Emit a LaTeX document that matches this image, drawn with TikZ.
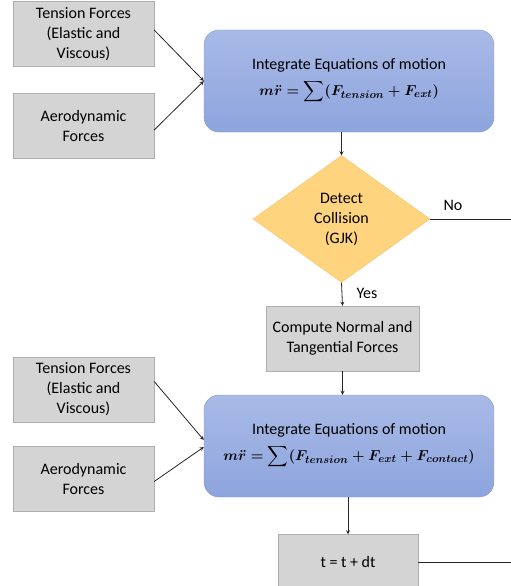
\documentclass[tikz,border=0pt]{standalone}
\usepackage{amsmath}
\usepackage{fontspec}
\setmainfont{Carlito}
\usetikzlibrary{shapes.geometric}

\definecolor{boxgray}{HTML}{D4D4D4}
\definecolor{boxgrayline}{HTML}{AEAEAE}
\definecolor{motiontop}{HTML}{A9BAE7}
\definecolor{motionbot}{HTML}{8DA4DD}
\definecolor{motionline}{HTML}{7F99D3}
\definecolor{collfill}{HTML}{FFD47F}
\definecolor{collline}{HTML}{F3C26E}

\newcommand{\motioneq}[1]{{\fontsize{15.3}{20}\selectfont\boldmath$\displaystyle #1$}}

\tikzset{
	every picture/.style={/utils/exec={\fontsize{16}{20}\selectfont}},
	forcebox/.style={draw=boxgrayline, fill=boxgray, minimum width=141pt, minimum height=65pt, align=center, inner sep=2pt},
	motionbox/.style={draw=motionline, top color=motiontop, bottom color=motionbot, rounded corners=15pt, minimum width=290pt, minimum height=102pt, align=center, inner sep=2pt},
	collbox/.style={diamond, draw=collline, fill=collfill, minimum width=177pt, minimum height=127pt, align=center, inner sep=0pt},
	flow/.style={-stealth, line width=0.8pt, black!85},
	plain/.style={line width=0.8pt, black!85},
}

\begin{document}
\begin{tikzpicture}[x=1pt, y=-1pt]
		\useasboundingbox (0,0) rectangle (511,586);

		% first step
		\node[forcebox] (ten1) at (83.5, 34) {Tension Forces\\(Elastic and\\Viscous)};
		\node[forcebox] (aero1) at (83.5, 126) {Aerodynamic\\Forces};
		\node[motionbox] (int1) at (349, 81) {Integrate Equations of motion\\[6pt]
			\motioneq{m\ddot{r} = \sum (F_{tension} + F_{ext})}};

		\draw[flow] ([yshift=4pt]ten1.east) -> (int1.west);
		\draw[flow] ([yshift=-4pt]aero1.east) -> (int1.west);

		% collision check
		\node[collbox] (gjk) at (341.5, 219) {Detect\\Collision\\(GJK)};
		\draw[flow] (int1.south -| gjk.north) -> (gjk.north);

		\coordinate (noend) at (511, 219);
		\draw[plain] (gjk.east) -- (noend);
		\node at (453, 205) {No};

		\node[forcebox, minimum width=153pt] (contact) at (342.5, 338.5) {Compute Normal and\\Tangential Forces};
		\draw[flow] (gjk.south) -> (contact.north);
		\node at (367, 293) {Yes};

		% second step
		\node[forcebox] (ten2) at (83.5, 389.5) {Tension Forces\\(Elastic and\\Viscous)};
		\node[forcebox] (aero2) at (83.5, 478.5) {Aerodynamic\\Forces};
		\node[motionbox] (int2) at (349, 446) {Integrate Equations of motion\\[6pt]
			\motioneq{m\ddot{r} = \sum (F_{tension} + F_{ext} + F_{contact})}};

		\draw[flow] (contact.south) -> (contact.south |- int2.north);
		\draw[flow] ([yshift=8pt]ten2.east) -> ([yshift=6pt]int2.west);
		\draw[flow] ([yshift=-3pt]aero2.east) -> ([yshift=-1pt]int2.west);

		% time step
		\node[forcebox, minimum width=140pt, minimum height=55pt] (dt) at (348, 562) {t = t + dt};
		\draw[flow] (int2.south -| dt.north) -> (dt.north);

		\coordinate (dtend) at (511, 562);
		\draw[plain] (dt.east) -- (dtend);
	\end{tikzpicture}
\end{document}
